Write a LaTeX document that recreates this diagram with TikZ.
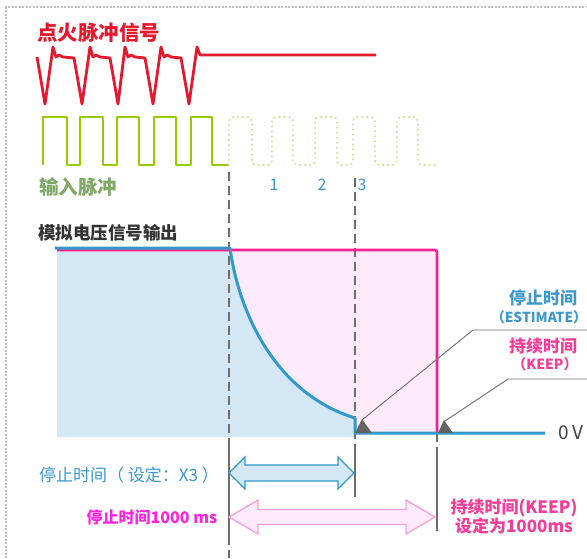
\documentclass[tikz,border=0pt]{standalone}
\usepackage{fontspec}
\setmainfont{Noto Sans CJK SC}
\usetikzlibrary{calc}
\definecolor{ignred}{RGB}{232,24,44}
\definecolor{pulsegreen}{RGB}{153,204,0}
\definecolor{pulsedot}{RGB}{200,228,140}
\definecolor{lblgreen}{RGB}{128,168,104}
\definecolor{sigblue}{RGB}{51,153,204}
\definecolor{txtblue}{RGB}{61,152,204}
\definecolor{fillblue}{RGB}{211,231,244}
\definecolor{sigpink}{RGB}{255,31,143}
\definecolor{fillpink}{RGB}{253,235,251}
\definecolor{txtpink}{RGB}{245,60,150}
\definecolor{txtmag}{RGB}{255,34,221}
\definecolor{arrpink}{RGB}{250,160,215}
\definecolor{arrpinkfill}{RGB}{254,234,250}
\definecolor{guidegray}{RGB}{110,110,110}
\definecolor{bordergray}{RGB}{190,190,190}
\tikzset{
  txt/.style={inner sep=0pt, outer sep=0pt},
  vdash/.style={draw=guidegray, line width=1.2pt, dash pattern=on 9pt off 5pt},
  vsolid/.style={draw=guidegray, line width=1.2pt},
  guide/.style={draw=guidegray, line width=0.9pt},
  tipfill/.style={fill=guidegray!90!black, draw=none},
}
\begin{document}
\begin{tikzpicture}[x=1pt,y=-1pt]
\useasboundingbox (0,0) rectangle (587,558);
\fill[white] (0,0) rectangle (587,558);
% border
\draw[bordergray, line width=1.5pt, dash pattern=on 2pt off 1.5pt] (6,558) -- (6,7) -- (587,7);

% fills
\fill[fillblue] (57,248) -- (230,248) .. controls (240,320) and (280,395) .. (355,418) -- (355,437) -- (57,437) -- cycle;
\fill[fillpink] (230,249) -- (437,249) -- (437,433) -- (355,433) -- (355,418) .. controls (280,395) and (240,320) .. (230,249) -- cycle;

% dashed verticals
\draw[vdash] (229,172) -- (229,558);
\draw[vsolid] (229,447) -- (229,540);
\draw[vdash] (355,178) -- (355,497);
\draw[vsolid] (355,447) -- (355,497);
\draw[vdash] (437,433) -- (437,448);
\draw[vsolid] (437,448) -- (437,531);

% pink and blue signals
\draw[sigpink, line width=2.6pt, rounded corners=2pt] (57,250) -- (437,250) -- (437,433);
\draw[sigblue, line width=3pt, line join=round] (55,248) -- (230,248) .. controls (240,320) and (280,395) .. (355,418) -- (355,433) -- (545,433);

% ignition signal
\draw[ignred, line width=2.8pt, line join=round] (37,57) -- (45,104) -- (53,47) -- (56,57) -- (59,55) -- (63,57) -- (74,58)
  -- (82,104) -- (90,47) -- (93,57) -- (96,55) -- (100,57) -- (110,58)
  -- (118,104) -- (125,47) -- (128,57) -- (131,55) -- (135,57) -- (145,58)
  -- (153,104) -- (161,47) -- (164,57) -- (167,55) -- (171,57) -- (181,58)
  -- (189,104) -- (197,47) -- (200,55) -- (376,55);

% input pulses
\draw[pulsegreen, line width=2.6pt, line join=round] (43,165) -- (43,117) -- (67,117) -- (67,165) -- (80,165) -- (80,117) -- (103,117) -- (103,165)
  -- (117,165) -- (117,117) -- (139,117) -- (139,165) -- (154,165) -- (154,117) -- (176,117) -- (176,165)
  -- (191,165) -- (191,117) -- (212,117) -- (212,165) -- (229,165);
\draw[pulsedot, line width=2.4pt, line cap=round, dash pattern=on 0pt off 5pt, rounded corners=4pt]
  (229,165) -- (229,117) -- (252,117) -- (252,165) -- (272,165) -- (272,117) -- (293,117) -- (293,165)
  -- (315,165) -- (315,117) -- (337,117) -- (337,165) -- (353,165) -- (353,117) -- (375,117) -- (375,165)
  -- (397,165) -- (397,117) -- (418,117) -- (418,165) -- (437,165);

% labels top
\node[txt, text=ignred, font=\bfseries\fontsize{20.5}{23}\selectfont] (title) at (99,33) {点火脉冲信号};
\node[txt, text=lblgreen, font=\bfseries\fontsize{19.5}{22}\selectfont] (inlabel) at (78,187) {输入脉冲};
\node[txt, text=txtblue, font=\fontsize{16}{18}\selectfont] (n1) at (274,185) {1};
\node[txt, text=txtblue, font=\fontsize{16}{18}\selectfont] (n2) at (322,185) {2};
\node[txt, text=txtblue, font=\fontsize{16}{18}\selectfont] (n3) at (362,185) {3};
\node[txt, text=black!80, font=\bfseries\fontsize{17.5}{20}\selectfont] (alabel) at (108,233) {模拟电压信号输出};

% right labels
\node[txt, text=txtblue, font=\bfseries\fontsize{17}{20}\selectfont] (est) at (543,298) {停止时间};
\node[txt, text=txtblue, font=\bfseries\fontsize{13.8}{16}\selectfont] (estE) at (539,317) {（ESTIMATE）};
\node[txt, text=txtpink, font=\bfseries\fontsize{17}{20}\selectfont] (keep) at (543,346) {持续时间};
\node[txt, text=txtpink, font=\bfseries\fontsize{14}{17}\selectfont] (keepK) at (545,364) {（KEEP）};
\node[txt, text=black!75, font=\fontsize{19}{22}\selectfont] (zerov) at (571,433) {0 V};

% guide arrows
\coordinate (estStart) at (587,330);
\coordinate (estBend) at (473,330);
\coordinate (estTip) at (362,420);
\coordinate (keepStart) at (587,379);
\coordinate (keepBend) at (508,379);
\coordinate (keepTip) at (445,421);
\draw[guide] (estStart) -- (estBend) -- (estTip);
\draw[guide] (keepStart) -- (keepBend) -- (keepTip);
\fill[tipfill] (355,433) -- (362,419) -- (372,433) -- cycle;
\fill[tipfill] (438,433) -- (444,420) -- (453,433) -- cycle;

% double arrows
\draw[sigblue, line width=1.3pt, fill=fillblue, line join=miter]
  (229,473) -- (245,457) -- (245,465) -- (338,465) -- (338,457) -- (354,473) -- (338,489) -- (338,481) -- (245,481) -- (245,489) -- cycle;
\draw[arrpink, line width=1.3pt, fill=arrpinkfill, line join=miter]
  (229,517) -- (258,500) -- (258,509.5) -- (406,509.5) -- (406,500) -- (435,517) -- (406,534) -- (406,524.5) -- (258,524.5) -- (258,534) -- cycle;

% bottom labels
\node[txt, text=txtblue, font=\fontsize{17}{19}\selectfont] (stoplbl) at (129,475) {停止时间（ 设定：X3 ）};
\node[txt, text=txtmag, font=\bfseries\fontsize{16}{18}\selectfont] (stop1000) at (152,517) {停止时间1000 ms};
\node[txt, text=txtpink, font=\bfseries\fontsize{17}{20}\selectfont, align=center] (keeplbl) at (514,517) {持续时间(KEEP)\\[-1pt]设定为1000ms};
\end{tikzpicture}
\end{document}
